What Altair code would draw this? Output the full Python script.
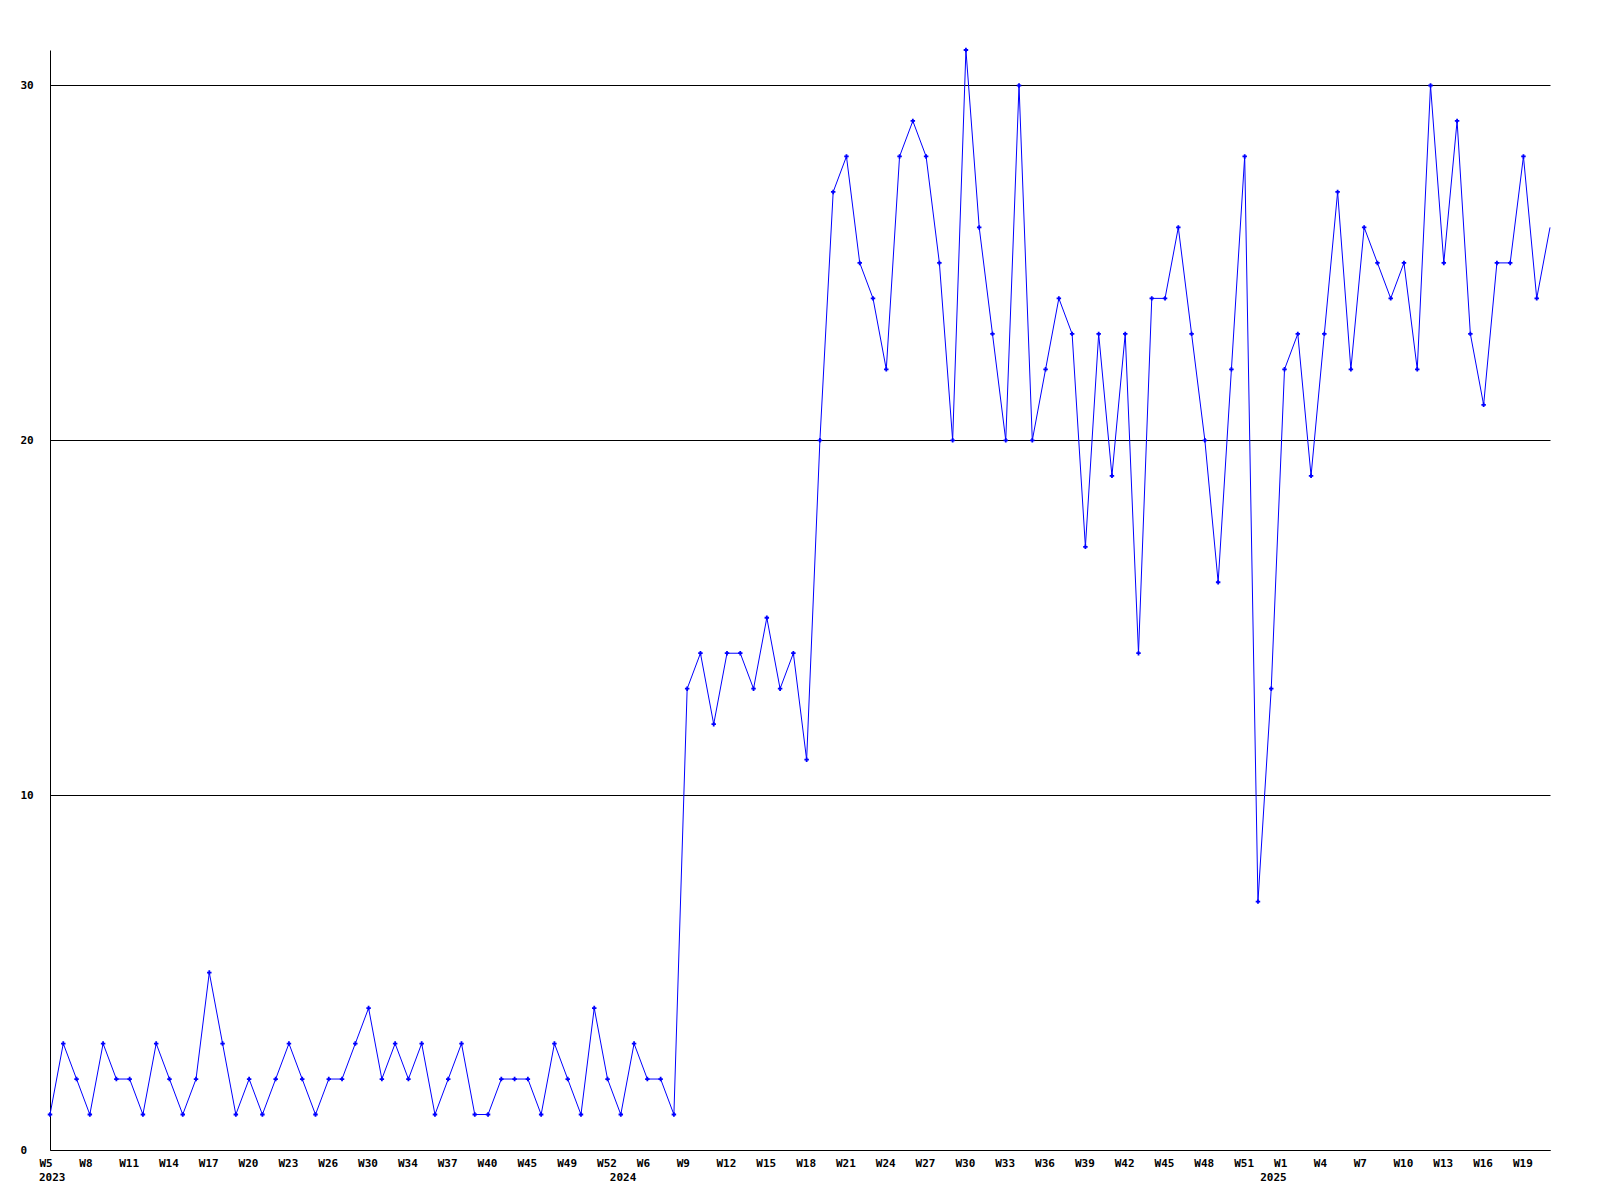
import altair as alt
import pandas as pd

# Weekly counts, one per plotted week (W5 2023 ... W21 2025)
values = [
    1, 3, 2, 1, 3, 2, 2, 1, 3, 2,
    1, 2, 5, 3, 1, 2, 1, 2, 3, 2,
    1, 2, 2, 3, 4, 2, 3, 2, 3, 1,
    2, 3, 1, 1, 2, 2, 2, 1, 3, 2,
    1, 4, 2, 1, 3, 2, 2, 1,
    13, 14, 12, 14, 14, 13, 15, 13, 14, 11,
    20, 27, 28, 25, 24, 22, 28, 29, 28, 25,
    20, 31, 26, 23, 20, 30, 20, 22, 24, 23,
    17, 23, 19, 23, 14, 24, 24, 26, 23, 20,
    16, 22, 28, 7, 13, 22, 23, 19, 23, 27,
    22, 26, 25, 24, 25, 22, 30, 25, 29, 23,
    21, 25, 25, 28, 24, 26,
]

# Week labels shown on the x axis (every third plotted week)
tick_labels = [
    "W5", "W8", "W11", "W14", "W17", "W20", "W23", "W26", "W30", "W34",
    "W37", "W40", "W45", "W49", "W52",
    "W6", "W9", "W12", "W15", "W18", "W21", "W24", "W27", "W30", "W33",
    "W36", "W39", "W42", "W45", "W48", "W51",
    "W1", "W4", "W7", "W10", "W13", "W16", "W19",
]
tick_step = 3

# Years and the index of the first plotted week of each year
years = ["2023", "2024", "2025"]
year_start = [0, 43, 92]

y_ticks = [0, 10, 20, 30]

n = len(values)
df = pd.DataFrame({"i": list(range(n)), "v": values})
ydf = pd.DataFrame({"i": year_start, "year": years})

FONT = "DejaVu Sans Mono"
BLUE = "#0000FF"

label_expr = "[" + ",".join("'" + t + "'" for t in tick_labels) + "][datum.value / %d]" % tick_step

xscale = alt.Scale(domain=[0, n - 1], nice=False, zero=False)
yscale = alt.Scale(domain=[0, max(values)], nice=False, zero=True)

x_axis = alt.Axis(
    values=list(range(0, len(tick_labels) * tick_step, tick_step)),
    labelExpr=label_expr,
    title=None,
    grid=False,
    ticks=False,
    tickSize=0,
    labelAlign="left",
    labelOffset=-11,
    labelBaseline="alphabetic",
    labelPadding=16,
    labelFlush=False,
    labelOverlap=False,
    labelFont=FONT,
    labelFontSize=11,
    labelFontWeight="bold",
    labelColor="black",
    domainColor="black",
    domainWidth=1,
)

y_axis = alt.Axis(
    values=y_ticks,
    title=None,
    grid=True,
    gridColor="black",
    gridOpacity=1,
    gridWidth=1,
    ticks=False,
    tickSize=0,
    labelAlign="left",
    labelBaseline="middle",
    labelPadding=30,
    labelFont=FONT,
    labelFontSize=11,
    labelFontWeight="bold",
    labelColor="black",
    domainColor="black",
    domainWidth=1,
)

base = alt.Chart(df)

line = base.mark_line(color=BLUE, strokeWidth=1).encode(
    x=alt.X("i:Q", scale=xscale, axis=x_axis),
    y=alt.Y("v:Q", scale=yscale, axis=y_axis),
)

points = base.transform_filter(alt.datum.i < n - 1).mark_point(
    shape="cross", filled=True, size=20, color=BLUE, opacity=1
).encode(
    x=alt.X("i:Q", scale=xscale),
    y=alt.Y("v:Q", scale=yscale),
)

year_text = alt.Chart(ydf).mark_text(
    align="left", baseline="alphabetic", dx=-11,
    font=FONT, fontSize=11, fontWeight="bold", color="black",
).encode(
    x=alt.X("i:Q", scale=xscale),
    y=alt.value(1131),
    text="year:N",
)

chart = alt.layer(line, points, year_text).properties(
    width=1500,
    height=1100,
    autosize=alt.AutoSizeParams(type="none"),
    padding={"left": 42, "top": 42, "right": 42, "bottom": 50},
    background="white",
).configure_view(stroke=None)

chart.save("out.html", embed_options={"renderer": "svg", "actions": False})
